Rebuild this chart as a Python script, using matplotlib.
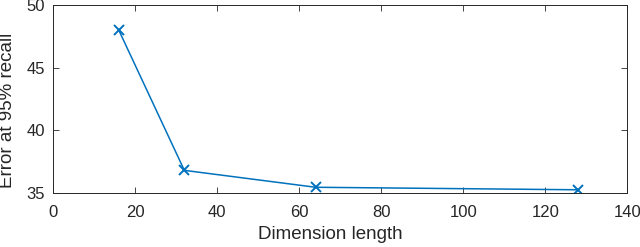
import matplotlib.pyplot as plt

dims = [16, 32, 64, 128]
err = [48.0, 36.8, 35.45, 35.25]

plt.rcParams['font.family'] = ['Liberation Sans', 'DejaVu Sans']
txt = '#262626'

fig = plt.figure(figsize=(6.4, 2.47), dpi=100)
ax = fig.add_axes([0.083, 0.219, 0.897, 0.761])
ax.plot(dims, err, color='#0072BD', lw=1.1, marker='x', ms=7, mew=1.4)
ax.set_xlim(0, 140)
ax.set_ylim(35, 50)
ax.set_xticks(range(0, 141, 20))
ax.set_yticks([35, 40, 45, 50])
ax.tick_params(direction='in', top=True, right=True, labelsize=12, colors=txt, length=4, width=0.6)
ax.tick_params(axis='x', pad=9)
ax.tick_params(axis='y', pad=6)
for s in ax.spines.values():
    s.set_color(txt)
    s.set_linewidth(0.7)
ax.set_xlabel('Dimension length', fontsize=13.5, color=txt)
ax.set_ylabel('Error at 95% recall', fontsize=13.5, color=txt)
ax.xaxis.set_label_coords(0.483, -0.175)
ax.yaxis.set_label_coords(-0.064, 0.44)
fig.savefig('out.png', dpi=100)
